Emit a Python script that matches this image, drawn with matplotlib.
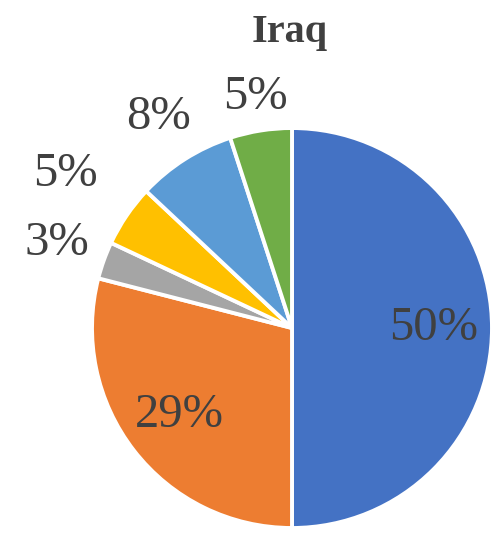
import numpy as np
import matplotlib
matplotlib.use('Agg')
import matplotlib.pyplot as plt

# Share of each category, drawn clockwise from 12 o'clock
shares = [50, 29, 3, 5, 8, 5]
colors = ['#4472C4', '#ED7D31', '#A5A5A5', '#FFC000', '#5B9BD5', '#70AD47']
# how far out each percentage label sits (in pie radii)
label_dist = [0.71, 0.71, 1.25, 1.37, 1.25, 1.17]

plt.rcParams['font.family'] = ['Liberation Serif', 'DejaVu Serif']

fig = plt.figure(figsize=(5, 5.4), dpi=100)
ax = fig.add_axes([0.184, 0.0222, 0.8, 0.7407])

wedges, _ = ax.pie(shares, colors=colors, startangle=90, counterclock=False,
                   wedgeprops=dict(edgecolor='white', linewidth=2.8))

for w, v, d in zip(wedges, shares, label_dist):
    ang = np.deg2rad((w.theta1 + w.theta2) / 2)
    ax.text(d * np.cos(ang), d * np.sin(ang), '%d%%' % v,
            ha='center', va='center', fontsize=35, color='#404040')

ax.set_xlim(-1, 1)
ax.set_ylim(-1, 1)
ax.set_aspect('equal')
ax.axis('off')

fig.text(0.58, 0.94, 'Iraq', ha='center', va='center', fontsize=29,
         fontweight='bold', color='#404040')

fig.savefig('out.png', dpi=100)
